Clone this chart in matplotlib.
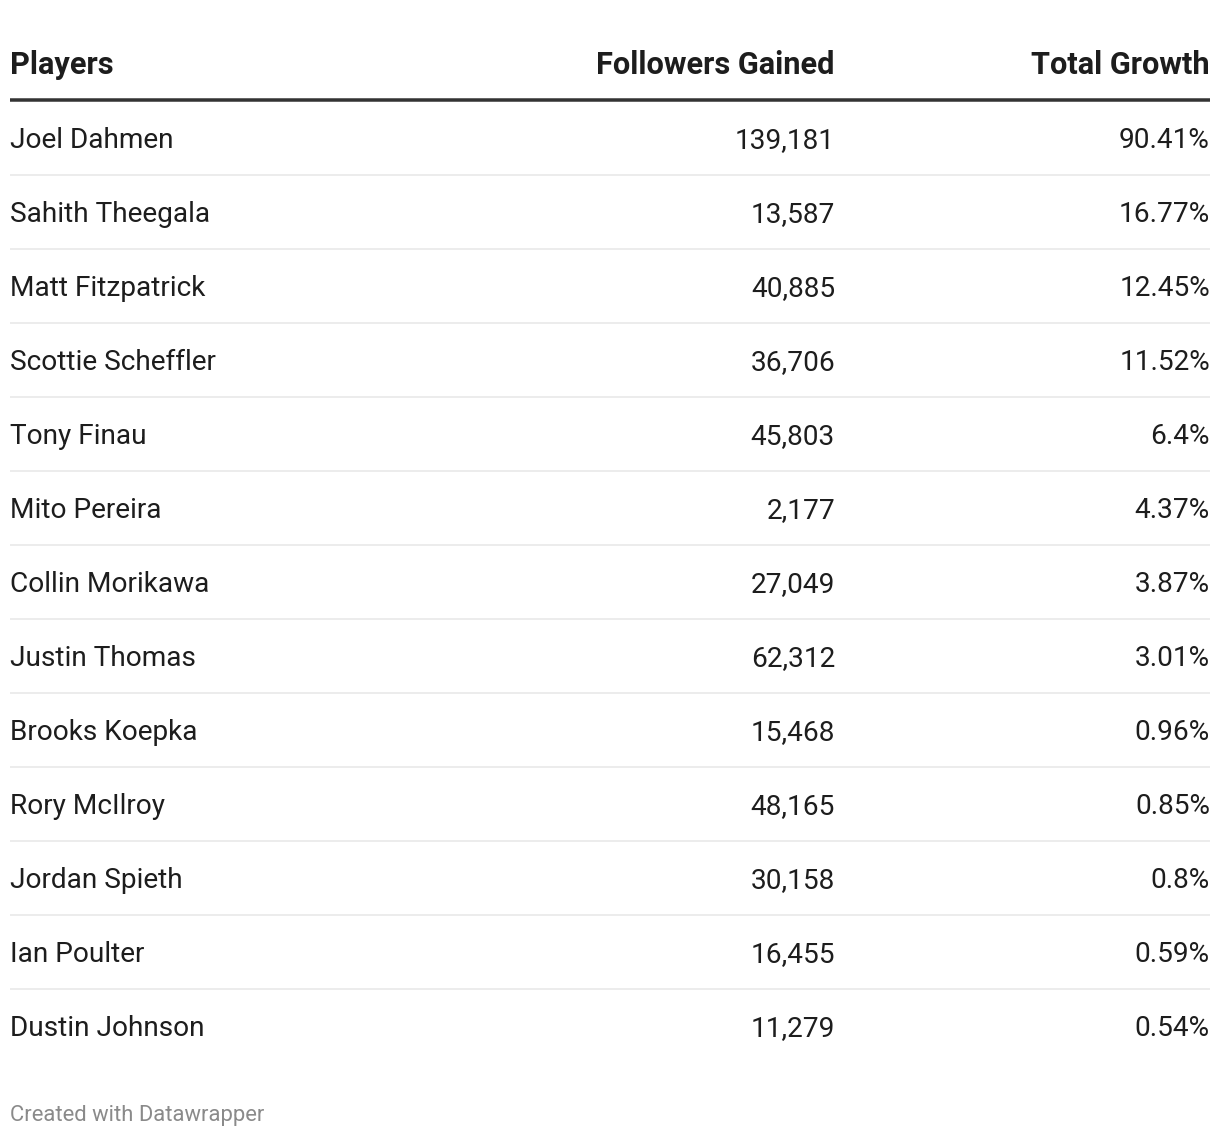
import matplotlib
matplotlib.use("Agg")
import matplotlib.pyplot as plt

players = ["Joel Dahmen", "Sahith Theegala", "Matt Fitzpatrick", "Scottie Scheffler",
           "Tony Finau", "Mito Pereira", "Collin Morikawa", "Justin Thomas",
           "Brooks Koepka", "Rory McIlroy", "Jordan Spieth", "Ian Poulter",
           "Dustin Johnson"]
followers = [139181, 13587, 40885, 36706, 45803, 2177, 27049, 62312,
             15468, 48165, 30158, 16455, 11279]
growth = [90.41, 16.77, 12.45, 11.52, 6.4, 4.37, 3.87, 3.01,
          0.96, 0.85, 0.8, 0.59, 0.54]
headers = ["Players", "Followers Gained", "Total Growth"]

W, H = 1220, 1138
DPI = 100
plt.rcParams['font.family'] = ['Roboto', 'DejaVu Sans']

fig = plt.figure(figsize=(W / DPI, H / DPI), dpi=DPI)
ax = fig.add_axes([0, 0, 1, 1])
ax.set_xlim(0, W)
ax.set_ylim(H, 0)
ax.axis('off')

txt = '#1d1d1d'
x_left, x_col2, x_col3 = 10, 835, 1210
px = 72 / DPI
body_fs = 28 * px
head_fs = 30.8 * px

# header
ax.text(x_left, 74, headers[0], ha='left', va='baseline', fontsize=head_fs,
        fontweight='bold', color=txt)
ax.text(x_col2, 74, headers[1], ha='right', va='baseline', fontsize=head_fs,
        fontweight='bold', color=txt)
ax.text(x_col3, 74, headers[2], ha='right', va='baseline', fontsize=head_fs,
        fontweight='bold', color=txt)
ax.plot([x_left, x_col3], [99.5, 99.5], color='#333333', lw=3.5 * px,
        solid_capstyle='butt')

row_h = 74
first_base = 148
for i, (p, f, g) in enumerate(zip(players, followers, growth)):
    yb = first_base + i * row_h
    ax.text(x_left, yb, p, ha='left', va='baseline', fontsize=body_fs, color=txt)
    ax.text(x_col2, yb, f"{f:,}", ha='right', va='baseline', fontsize=body_fs, color=txt)
    ax.text(x_col3, yb, f"{g:g}%", ha='right', va='baseline', fontsize=body_fs, color=txt)
    if i < len(players) - 1:
        ys = 175 + i * row_h
        ax.plot([x_left, x_col3], [ys, ys], color='#ececec', lw=2 * px,
                solid_capstyle='butt')

ax.text(x_left, 1121, "Created with Datawrapper", ha='left', va='baseline',
        fontsize=22 * px, color='#8a8a8a')

fig.savefig('out.png', dpi=DPI, facecolor='white')
